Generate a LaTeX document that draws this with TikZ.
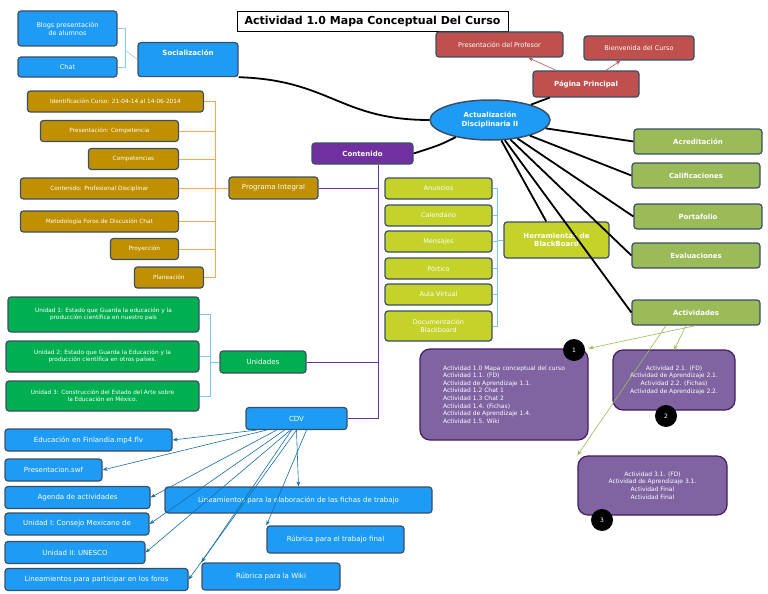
\documentclass[tikz,border=0pt]{standalone}
\usepackage{fontspec}
\setmainfont{DejaVu Sans}
\usetikzlibrary{arrows.meta,shapes.geometric}
\definecolor{bl}{HTML}{1E9CF5}
\definecolor{rd}{HTML}{C0504D}
\definecolor{ol}{HTML}{9BBB59}
\definecolor{yg}{HTML}{C4D22A}
\definecolor{gd}{HTML}{C09000}
\definecolor{gr}{HTML}{00B050}
\definecolor{pu}{HTML}{7030A0}
\definecolor{lp}{HTML}{8064A2}
\definecolor{bd}{HTML}{3A4F66}
\begin{document}
\begin{tikzpicture}[x=1pt,y=-1pt,
 box/.style={draw=bd,line width=1.2pt,rounded corners=3pt,fill=#1,text=white,font=\fontsize{6.5}{8}\selectfont,align=center,inner sep=1pt},
 bb/.style={box=#1,font=\bfseries\fontsize{7}{8.5}\selectfont},
 sz/.style 2 args={minimum width=#1,minimum height=#2},
 br/.style={draw=#1,line width=0.6pt},
 arr/.style={draw=#1,line width=0.6pt,-{Stealth[length=5pt]}},
 thk/.style={draw=black,line width=1.8pt},
 num/.style={circle,fill=black,text=white,minimum size=22pt,font=\fontsize{6}{7}\selectfont,inner sep=0}]
\useasboundingbox (0,0) rectangle (768,594);
\fill[white] (0,0) rectangle (768,594);
\node[draw=black,fill=white,font=\bfseries\fontsize{11}{13}\selectfont,sz={271pt}{20pt}] (title) at (372.5,21) {Actividad 1.0 Mapa Conceptual Del Curso};
% central
\node[ellipse,draw=bd,line width=1.5pt,fill=bl,text=white,font=\bfseries\fontsize{7}{8.5}\selectfont,align=center,sz={120pt}{40pt}] (c) at (490,120) {Actualización\\Disciplinaria II};
% top left
\node[box=bl,sz={99pt}{35pt}] (blogs) at (67.5,28.5) {Blogs presentación\\de alumnos};
\node[box=bl,sz={99pt}{20pt}] (chat) at (67.5,67) {Chat};
\node[bb=bl,sz={100pt}{34pt},anchor=north,text depth=14pt] (soc) at (188,42) {Socialización};
% red
\node[box=rd,sz={127pt}{25pt}] (prof) at (499.5,44.5) {Presentación del Profesor};
\node[box=rd,sz={110pt}{24pt}] (bien) at (639,48) {Bienvenida del Curso};
\node[bb=rd,sz={106pt}{26pt}] (pag) at (586,84) {Página Principal};
% green right
\node[bb=ol,sz={128pt}{25pt}] (acr) at (698,141.5) {Acreditación};
\node[bb=ol,sz={128pt}{25pt}] (cal) at (696,175.5) {Calificaciones};
\node[bb=ol,sz={128pt}{25pt}] (port) at (698,216.5) {Portafolio};
\node[bb=ol,sz={128pt}{25pt}] (eva) at (696,255.5) {Evaluaciones};
\node[bb=ol,sz={128pt}{25pt}] (act) at (696,312.5) {Actividades};
% contenido
\node[bb=pu,sz={101pt}{21pt}] (cont) at (362.5,153.5) {Contenido};
% herramientas
\node[bb=yg,sz={105pt}{36pt}] (herr) at (556.5,240) {Herramientas de\\BlackBoard};
\node[box=yg,sz={107pt}{21pt}] (y1) at (438.5,188.5) {Anuncios};
\node[box=yg,sz={107pt}{21pt}] (y2) at (438.5,215.5) {Calendario};
\node[box=yg,sz={107pt}{21pt}] (y3) at (438.5,241.5) {Mensajes};
\node[box=yg,sz={107pt}{21pt}] (y4) at (438.5,268.5) {Pórtico};
\node[box=yg,sz={107pt}{21pt}] (y5) at (438.5,294.5) {Aula Virtual};
\node[box=yg,sz={107pt}{30pt}] (y6) at (438.5,326) {Documentación\\Blackboard};
% programa
\node[box=gd,font=\fontsize{7}{8}\selectfont,sz={89pt}{22pt}] (prog) at (273.5,188) {Programa Integral};
\tikzset{gbox/.style={box=gd,font=\fontsize{5.8}{7}\selectfont,align=right,minimum height=21pt,anchor=east,inner xsep=4pt}}
\node[gbox,minimum width=176pt] (g1) at (204,101.5) {Identificación Curso: 21-04-14 al 14-06-2014};
\node[gbox,minimum width=138pt] (g2) at (179,131) {Presentación: Competencia};
\node[gbox,minimum width=90pt] (g3) at (179,159) {Competencias};
\node[gbox,minimum width=158pt] (g4) at (179,188.5) {Contenido: Profesional Disciplinar};
\node[gbox,minimum width=158pt] (g5) at (179,221.5) {Metodología Foros de Discusión Chat};
\node[gbox,minimum width=68pt] (g6) at (179,249) {Proyección};
\node[gbox,minimum width=69pt] (g7) at (204,277.5) {Planeación};
% unidades
\tikzset{ubox/.style={box=gr,font=\fontsize{5.8}{7}\selectfont}}
\node[ubox,sz={191pt}{35pt}] (u1) at (103.5,314.5) {Unidad 1: Estado que Guarda la educación y la\\producción científica  en nuestro país};
\node[ubox,sz={193pt}{31pt}] (u2) at (102.5,356.5) {Unidad 2: Estado que Guarda la Educación  y la\\producción científica en otros países.};
\node[ubox,sz={193pt}{30pt}] (u3) at (102.5,396) {Unidad 3: Construcción del Estado del Arte sobre\\la Educación en México.};
\node[box=gr,font=\fontsize{7}{8}\selectfont,sz={86pt}{22pt}] (uni) at (263,362) {Unidades};
% CDV
\tikzset{cb/.style={box=bl,font=\fontsize{7}{8}\selectfont,minimum height=22pt}}
\node[cb,minimum width=101pt] (cdv) at (296.5,418.5) {CDV};
\node[cb,minimum width=167pt] (b1) at (88.5,440) {Educación en Finlandia.mp4.flv};
\node[cb,minimum width=97pt] (b2) at (53.5,470) {Presentacion.swf};
\node[cb,minimum width=145pt] (b3) at (77.5,497.5) {Agenda de actividades};
\node[cb,minimum width=144pt] (b4) at (77,524) {Unidad I: Consejo Mexicano de};
\node[cb,minimum width=140pt] (b5) at (75,552.5) {Unidad II: UNESCO};
\node[cb,minimum width=183pt] (b6) at (96.5,579.5) {Lineamientos para participar en los foros};
\node[cb,minimum width=267pt,minimum height=26pt] (b7) at (298.5,500) {Lineamientos para la elaboración de las fichas de trabajo};
\node[cb,minimum width=137pt,minimum height=27pt] (b8) at (335.5,539.5) {Rúbrica para el trabajo final};
\node[cb,minimum width=138pt,minimum height=27pt] (b9) at (271,576.5) {Rúbrica para la Wiki};
% activities
\tikzset{pb/.style={box=lp,draw=pu!60!black,rounded corners=10pt,font=\fontsize{6}{7.6}\selectfont}}
\node[pb,sz={168pt}{91pt},align=left] (a1) at (504,394.5) {Actividad 1.0 Mapa conceptual del curso\\Actividad 1.1. (FD)\\Actividad de Aprendizaje 1.1.\\Actividad 1.2 Chat 1\\Actividad 1.3 Chat 2\\Actividad 1.4. (Fichas)\\Actividad de Aprendizaje 1.4.\\Actividad 1.5. Wiki};
\node[pb,sz={122pt}{60pt}] (a2) at (674,380) {Actividad 2.1. (FD)\\Actividad de Aprendizaje 2.1.\\Actividad 2.2. (Fichas)\\Actividad de Aprendizaje 2.2.};
\node[pb,sz={149pt}{59pt}] (a3) at (652.5,485.5) {Actividad 3.1. (FD)\\Actividad de Aprendizaje 3.1.\\Actividad Final\\Actividad Final};
\node[num] (n1) at (574,350) {1};
\node[num] (n2) at (666,416) {2};
\node[num] (n3) at (602,520) {3};
% connectors
\draw[thk] (soc.south east) .. controls (330,80) and (340,120) .. (c.west);
\draw[thk] (c) -- (pag);
\draw[arr=rd] (pag) -- (prof);
\draw[arr=rd] (pag) -- (bien);
\foreach \n in {acr,cal,port,eva,act} \draw[thk] (c) -- (\n.west);
\draw[thk] (c) -- (herr);
\draw[thk] (c) .. controls (440,145) .. (cont.east);
\draw[br=bl!50] (blogs.east) -- ++(8,0) |- (chat.east);
\draw[br=bl!50] (125,50) -- (soc.west);
% purple tree
\draw[br=pu] (cont.south -| 378,0) -- (378,418.5) -- (cdv.east);
\draw[br=pu] (prog.east) -- (378,188);
\draw[br=pu] (uni.east) -- (378,362);
% yellow bracket
\draw[br=bl!60] (y1.east) -- (497,188.5) |- (y6.east);
\foreach \n in {y2,y3,y4,y5} \draw[br=bl!60] (\n.east) -- (\n.east -| 497,0);
\draw[br=bl!60] (497,240) -- (herr.west);
% orange bracket
\draw[br=orange!70] (g1.east) -- (215,101.5) |- (g7.east);
\foreach \n in {g2,g3,g4,g5,g6} \draw[br=orange!70] (\n.east) -- (\n.east -| 215,0);
\draw[br=orange!70] (215,188) -- (prog.west);
% units bracket
\draw[br=bl!60] (u1.east) -- (210,314.5) |- (u3.east);
\draw[br=bl!60] (u2.east) -- (210,356.5);
\draw[br=bl!60] (210,362) -- (uni.west);
% CDV arrows
\foreach \n/\s in {b1/-40,b2/-30,b3/-20,b4/-12,b5/-6,b6/0} \draw[arr=bl!70!black] ([xshift=\s pt]cdv.south) -- (\n.east);
\draw[arr=bl!70!black] (cdv.south) -- (b7.north);
\draw[arr=bl!70!black] ([xshift=10pt]cdv.south) -- (b8.north west);
\draw[arr=bl!70!black] ([xshift=-5pt]cdv.south) -- (b9.north west);
% activities arrows
\draw[arr=ol] (act.south) -- (a1.north east);
\draw[arr=ol] ([xshift=-10pt]act.south) -- (674,350);
\draw[arr=ol] ([xshift=-30pt]act.south) -- (a3.north west);
\end{tikzpicture}
\end{document}
